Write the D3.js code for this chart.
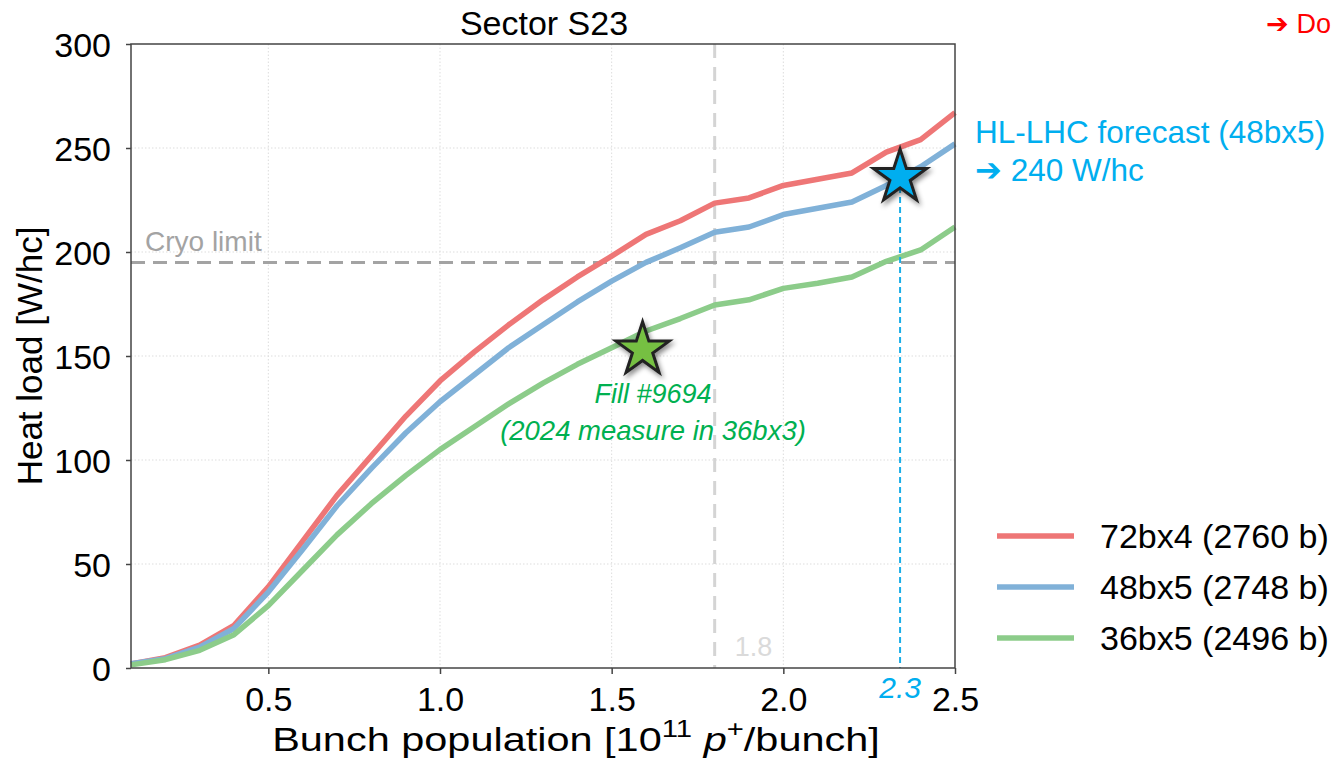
<!DOCTYPE html>
<html lang="en">
<head>
    <meta charset="UTF-8">
    <title>Sector S23</title>
    <style>
        body { margin: 0; background: #fff; }
        text { font-family: "Liberation Sans", Arial, sans-serif; }
    </style>
</head>
<body>
<script src="https://cdn.jsdelivr.net/npm/d3@7"></script>
<script>
    // bunch population [1e11 p/bunch]
    const bunchPop = [0.1, 0.2, 0.3, 0.4, 0.5, 0.6, 0.7, 0.8, 0.9, 1.0, 1.1, 1.2, 1.3,
        1.4, 1.5, 1.6, 1.7, 1.8, 1.9, 2.0, 2.1, 2.2, 2.3, 2.4, 2.5];

    // heat load [W/hc] per filling scheme
    const load72bx4 = [2, 5, 11, 20.5, 39, 61, 83, 102, 121, 138, 152, 165, 177,
        188, 198, 208.5, 215, 223.5, 226, 232, 235, 238, 248, 254, 267];
    const load48bx5 = [2, 4.5, 10, 19, 36.5, 57, 78, 96, 113, 128, 141, 154, 165,
        176, 186, 195, 202, 209.5, 212, 218, 221, 224, 232, 241, 252];
    const load36bx5 = [1.5, 4, 8.5, 16, 30, 47, 64, 79, 92.5, 105, 116, 127, 137,
        146, 154, 162, 168, 174.5, 177, 182.5, 185, 188, 195.5, 201, 212];

    const seriesNames = ["72bx4 (2760 b)", "48bx5 (2748 b)", "36bx5 (2496 b)"];
    const seriesColors = ["#ee7676", "#80b1d8", "#8ccc8a"];

    const xTicks = [0.5, 1.0, 1.5, 2.0, 2.5];
    const yTicks = [0, 50, 100, 150, 200, 250, 300];

    const cryoLimit = 195;
    const refPop = 1.8;
    const hlPoint = [2.34, 236];     // HL-LHC forecast star
    const fillPoint = [1.59, 153];   // fill 9694 star

    const width = 1340, height = 766;
    const plot = {left: 131, right: 955, top: 44, bottom: 668};

    const svg = d3.select("body").append("svg")
        .attr("width", width)
        .attr("height", height);

    const defs = svg.append("defs");
    defs.append("filter").attr("id", "shadow")
        .attr("x", "-50%").attr("y", "-50%").attr("width", "200%").attr("height", "200%")
        .append("feDropShadow")
        .attr("dx", 2).attr("dy", 3).attr("stdDeviation", 2.5)
        .attr("flood-color", "#000").attr("flood-opacity", 0.45);

    const x = d3.scaleLinear().domain([0.1, 2.5]).range([plot.left, plot.right]);
    const y = d3.scaleLinear().domain([0, 300]).range([plot.bottom, plot.top]);

    // grid
    const grid = svg.append("g");
    grid.selectAll(".gx").data(xTicks.slice(0, -1)).enter().append("line")
        .attr("x1", d => x(d)).attr("x2", d => x(d))
        .attr("y1", plot.top).attr("y2", plot.bottom)
        .attr("stroke", "#ddd").attr("stroke-width", 1).attr("stroke-dasharray", "1.5,2");
    grid.selectAll(".gy").data(yTicks.slice(1, -1)).enter().append("line")
        .attr("x1", plot.left).attr("x2", plot.right)
        .attr("y1", d => y(d)).attr("y2", d => y(d))
        .attr("stroke", "#ddd").attr("stroke-width", 1).attr("stroke-dasharray", "1.5,2");

    // reference line at 1.8
    svg.append("line")
        .attr("x1", x(refPop)).attr("x2", x(refPop))
        .attr("y1", plot.top).attr("y2", plot.bottom)
        .attr("stroke", "#d4d4d4").attr("stroke-width", 3).attr("stroke-dasharray", "14,9");
    svg.append("text")
        .attr("x", x(refPop) + 20).attr("y", plot.bottom - 12)
        .attr("fill", "#dadada").style("font-size", "27px")
        .text("1.8");

    // cryo limit
    svg.append("line")
        .attr("x1", plot.left).attr("x2", plot.right)
        .attr("y1", y(cryoLimit)).attr("y2", y(cryoLimit))
        .attr("stroke", "#a3a3a3").attr("stroke-width", 3).attr("stroke-dasharray", "14,8");
    svg.append("text")
        .attr("x", plot.left + 14).attr("y", y(cryoLimit) - 11)
        .attr("fill", "#a3a3a3").style("font-size", "28px")
        .text("Cryo limit");

    // curves
    const series = [load72bx4, load48bx5, load36bx5];
    const line = d3.line()
        .x((d, i) => x(bunchPop[i]))
        .y(d => y(d));

    series.forEach((values, k) => {
        svg.append("path")
            .datum(values)
            .attr("fill", "none")
            .attr("stroke", seriesColors[k])
            .attr("stroke-width", 5.5)
            .attr("stroke-linejoin", "round")
            .attr("d", line);
    });

    // HL-LHC marker line
    svg.append("line")
        .attr("x1", x(hlPoint[0])).attr("x2", x(hlPoint[0]))
        .attr("y1", y(hlPoint[1])).attr("y2", plot.bottom)
        .attr("stroke", "#1aaee8").attr("stroke-width", 2).attr("stroke-dasharray", "6,4");

    // axes frame
    svg.append("rect")
        .attr("x", plot.left).attr("y", plot.top)
        .attr("width", plot.right - plot.left).attr("height", plot.bottom - plot.top)
        .attr("fill", "none").attr("stroke", "#444").attr("stroke-width", 1.5);

    const xAxis = svg.append("g")
        .attr("transform", "translate(0," + plot.bottom + ")")
        .call(d3.axisBottom(x).tickValues(xTicks).tickFormat(d3.format(".1f")).tickSize(6).tickPadding(13));
    const yAxis = svg.append("g")
        .attr("transform", "translate(" + plot.left + ",0)")
        .call(d3.axisLeft(y).tickValues(yTicks).tickSize(5).tickPadding(15));

    [xAxis, yAxis].forEach(a => {
        a.select(".domain").remove();
        a.selectAll("line").attr("stroke", "#444").attr("stroke-width", 1.5);
        a.selectAll("text").attr("fill", "#000")
            .style("font-family", "'Liberation Sans', Arial, sans-serif")
            .style("font-size", "34px");
    });
    yAxis.selectAll("text").attr("dy", "0.36em");

    // 2.3 label below axis
    svg.append("text")
        .attr("x", x(hlPoint[0])).attr("y", plot.bottom + 30)
        .attr("text-anchor", "middle").attr("fill", "#00aeef")
        .style("font-size", "30px").style("font-style", "italic")
        .text("2.3");

    // stars
    const star = d3.symbol().type(d3.symbolStar).size(28 * 28 / 0.8908);
    svg.append("path")
        .attr("d", star)
        .attr("transform", "translate(" + x(fillPoint[0]) + "," + y(fillPoint[1]) + ")")
        .attr("fill", "#76c043").attr("stroke", "#222").attr("stroke-width", 3)
        .attr("stroke-linejoin", "miter")
        .attr("filter", "url(#shadow)");
    svg.append("path")
        .attr("d", star)
        .attr("transform", "translate(" + x(hlPoint[0]) + "," + y(hlPoint[1]) + ")")
        .attr("fill", "#00aeef").attr("stroke", "#222").attr("stroke-width", 3)
        .attr("stroke-linejoin", "miter")
        .attr("filter", "url(#shadow)");

    // annotations
    svg.append("text")
        .attr("x", 653).attr("y", 403)
        .attr("text-anchor", "middle").attr("fill", "#00b050")
        .style("font-size", "27px").style("font-style", "italic")
        .text("Fill #9694");
    svg.append("text")
        .attr("x", 653).attr("y", 440)
        .attr("text-anchor", "middle").attr("fill", "#00b050")
        .style("font-size", "27.5px").style("font-style", "italic")
        .text("(2024 measure in 36bx3)");

    svg.append("text")
        .attr("x", 975).attr("y", 143)
        .attr("fill", "#00aeef").style("font-size", "31.5px")
        .text("HL-LHC forecast (48bx5)");
    svg.append("text")
        .attr("x", 975).attr("y", 181)
        .attr("fill", "#00aeef").style("font-size", "31.5px")
        .text("\u2794 240 W/hc");

    svg.append("text")
        .attr("x", 1266).attr("y", 33)
        .attr("fill", "#ff0000").style("font-size", "27px")
        .text("\u2794 Do");

    // title and axis labels
    svg.append("text")
        .attr("x", 544).attr("y", 35)
        .attr("text-anchor", "middle").style("font-size", "34px")
        .text("Sector S23");

    svg.append("text")
        .attr("transform", "translate(42," + ((plot.top + plot.bottom) / 2) + ") rotate(-90)")
        .attr("text-anchor", "middle").style("font-size", "35px")
        .text("Heat load [W/hc]");

    const xl = svg.append("text")
        .attr("x", 0).attr("y", 0)
        .attr("text-anchor", "middle").style("font-size", "34px");
    xl.append("tspan").text("Bunch population [10");
    xl.append("tspan").attr("dy", -14).style("font-size", "24px").text("11");
    xl.append("tspan").attr("dy", 14).text(" ");
    xl.append("tspan").style("font-style", "italic").text("p");
    xl.append("tspan").attr("dy", -14).style("font-size", "24px").text("+");
    xl.append("tspan").attr("dy", 14).text("/bunch]");
    const xlWidth = xl.node().getComputedTextLength() || 500;
    xl.attr("transform", "translate(576,751) scale(" + (608 / xlWidth) + ",1)");

    // legend
    const legend = svg.append("g");
    seriesNames.forEach((name, k) => {
        const ly = 536 + k * 51;
        legend.append("line")
            .attr("x1", 997).attr("x2", 1074)
            .attr("y1", ly).attr("y2", ly)
            .attr("stroke", seriesColors[k]).attr("stroke-width", 5.5);
        legend.append("text")
            .attr("x", 1100).attr("y", ly + 12)
            .style("font-size", "34px")
            .text(name);
    });
</script>
</body>
</html>
